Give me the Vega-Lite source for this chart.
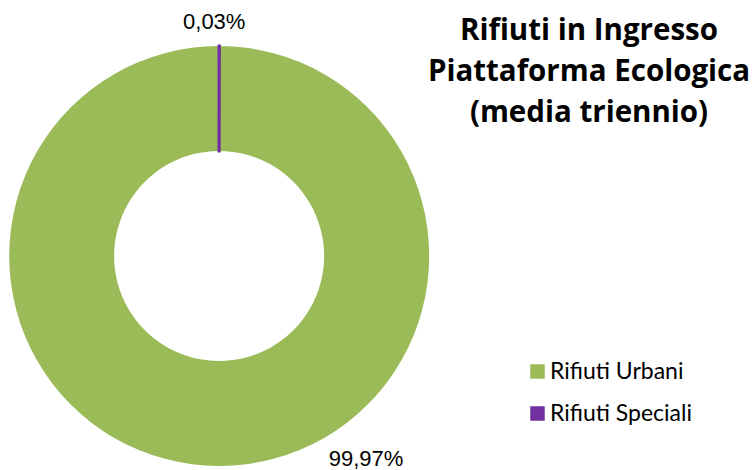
{
  "$schema": "https://vega.github.io/schema/vega-lite/v6.json",
  "width": 752,
  "height": 470,
  "autosize": "none",
  "padding": 0,
  "background": "white",
  "title": {
    "text": ["Rifiuti in Ingresso", "Piattaforma Ecologica", "(media triennio)"],
    "anchor": "end",
    "align": "center",
    "dx": -163,
    "orient": "top",
    "baseline": "top",
    "dy": 132,
    "font": "Open Sans",
    "fontSize": 29.5,
    "fontWeight": "bold",
    "lineHeight": 41,
    "color": "black"
  },
  "data": {
    "values": [
      {"categoria": "Rifiuti Urbani", "quota": 99.97, "ordine": 2, "etichetta": "99,97%"},
      {"categoria": "Rifiuti Speciali", "quota": 0.03, "ordine": 1, "etichetta": "0,03%"}
    ]
  },
  "encoding": {
    "theta": {"field": "quota", "type": "quantitative", "stack": true},
    "order": {"field": "ordine", "type": "quantitative"}
  },
  "layer": [
    {
      "mark": {"type": "arc", "x": 219, "y": 256, "outerRadius": 210, "innerRadius": 105},
      "encoding": {
        "color": {
          "field": "categoria",
          "type": "nominal",
          "scale": {"domain": ["Rifiuti Urbani", "Rifiuti Speciali"], "range": ["#9BBB59", "#7030A0"]},
          "legend": {
            "title": null,
            "orient": "none",
            "legendX": 526,
            "legendY": 360,
            "symbolType": "square",
            "symbolSize": 210,
            "symbolStrokeWidth": 0,
            "labelFont": "Lato",
            "labelFontSize": 23,
            "labelColor": "black",
            "labelOffset": 1,
            "rowPadding": 18
          }
        },
        "stroke": {
          "condition": {"test": "datum.categoria === 'Rifiuti Speciali'", "value": "#7030A0"},
          "value": "#9BBB59"
        },
        "strokeWidth": {
          "condition": {"test": "datum.categoria === 'Rifiuti Speciali'", "value": 3},
          "value": 0
        }
      }
    },
    {
      "transform": [{"filter": "datum.categoria === 'Rifiuti Speciali'"}],
      "mark": {"type": "text", "x": 219, "y": 256, "radius": 234, "font": "Liberation Sans", "fontSize": 22, "color": "black", "dx": -5},
      "encoding": {"text": {"field": "etichetta"}}
    },
    {
      "transform": [{"filter": "datum.categoria === 'Rifiuti Urbani'"}],
      "mark": {"type": "text", "x": 366, "y": 459, "font": "Liberation Sans", "fontSize": 22, "color": "black"},
      "encoding": {"text": {"field": "etichetta"}, "theta": {"value": 0}}
    }
  ]
}
